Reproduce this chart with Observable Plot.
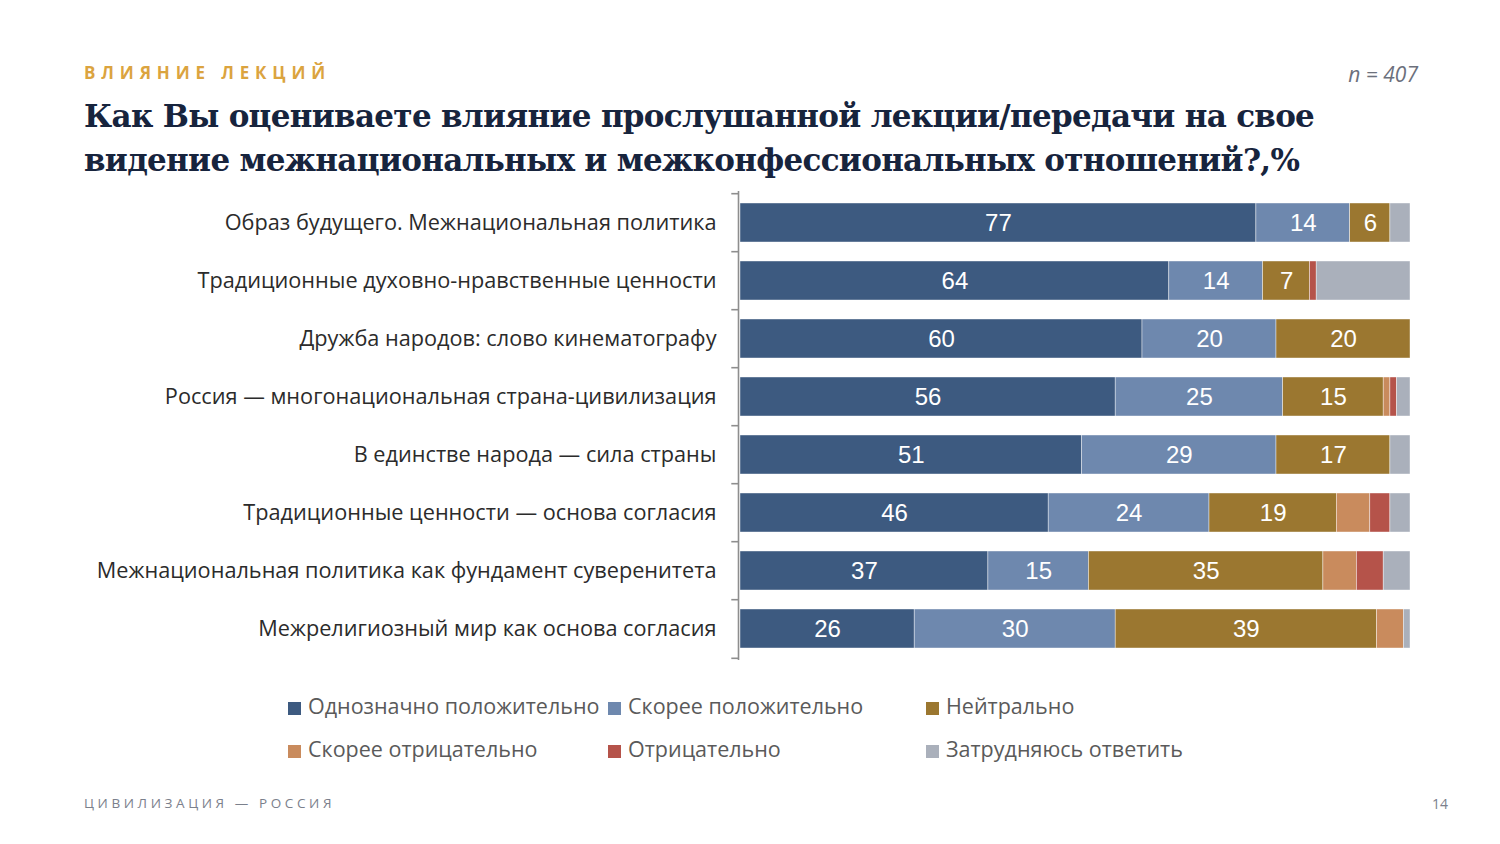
<!DOCTYPE html>
<html>
<head>
<meta charset="utf-8">
<script src="https://cdn.jsdelivr.net/npm/d3@7"></script>
<script src="https://cdn.jsdelivr.net/npm/@observablehq/plot@0.6"></script>
<style>
  html, body { margin: 0; padding: 0; background: #fff; }
  body { width: 1500px; height: 844px; position: relative; overflow: hidden; font-family: "Open Sans", sans-serif; }
  .kicker { position: absolute; left: 84px; top: 61px; font-family: "Open Sans", sans-serif; font-weight: 700; font-size: 17px; letter-spacing: 5.85px; color: #dba43f; }
  .n { position: absolute; right: 82px; top: 60px; font-family: "Open Sans", sans-serif; font-style: italic; font-size: 21px; color: #6c707c; }
  h1 { position: absolute; left: 84px; top: 94px; margin: 0; font-family: "DejaVu Serif", serif; font-weight: 700; font-size: 31px; line-height: 44px; color: #17243d; letter-spacing: -0.7px; }
  #chart { position: absolute; left: 0; top: 181px; }
  .legend { position: absolute; font-family: "Open Sans", sans-serif; font-size: 21.5px; color: #5a5a5a; white-space: nowrap; }
  .legend .sw { display: inline-block; width: 13px; height: 13px; margin-right: 7px; vertical-align: -1px; }
  .footer { position: absolute; left: 84px; top: 794px; font-size: 13.5px; letter-spacing: 3.6px; color: #7b808c; }
  .page { position: absolute; right: 52px; top: 794px; font-size: 14px; color: #7b808c; }
</style>
</head>
<body>
<div class="kicker">ВЛИЯНИЕ ЛЕКЦИЙ</div>
<div class="n">n = 407</div>
<h1>Как Вы оцениваете влияние прослушанной лекции/передачи на свое<br>видение межнациональных и межконфессиональных отношений?,%</h1>
<div id="chart"></div>
<div id="legend"></div>
<div class="footer">ЦИВИЛИЗАЦИЯ — РОССИЯ</div>
<div class="page">14</div>
<script>
const categories = [
  "Образ будущего. Межнациональная политика",
  "Традиционные духовно-нравственные ценности",
  "Дружба народов: слово кинематографу",
  "Россия — многонациональная страна-цивилизация",
  "В единстве народа — сила страны",
  "Традиционные ценности — основа согласия",
  "Межнациональная политика как фундамент суверенитета",
  "Межрелигиозный мир как основа согласия"
];
const responses = [
  "Однозначно положительно",
  "Скорее положительно",
  "Нейтрально",
  "Скорее отрицательно",
  "Отрицательно",
  "Затрудняюсь ответить"
];
const colors = ["#3d5a80", "#6e88ae", "#9b7730", "#c98b5d", "#b5534a", "#aab0bb"];

const definitelyPositive = [77, 64, 60, 56, 51, 46, 37, 26];
const ratherPositive     = [14, 14, 20, 25, 29, 24, 15, 30];
const neutral            = [ 6,  7, 20, 15, 17, 19, 35, 39];
const ratherNegative     = [ 0,  0,  0,  1,  0,  5,  5,  4];
const negative           = [ 0,  1,  0,  1,  0,  3,  4,  0];
const hardToSay          = [ 3, 14,  0,  2,  3,  3,  4,  1];

const series = [definitelyPositive, ratherPositive, neutral, ratherNegative, negative, hardToSay];
const labeled = new Set(responses.slice(0, 3));

const data = [];
categories.forEach((c, i) => {
  responses.forEach((r, j) => {
    data.push({cat: c, resp: r, value: series[j][i]});
  });
});

const width = 1500, height = 489, mt = 10, mb = 10;
const step = (height - mt - mb) / categories.length;

const chart = Plot.plot({
  width, height,
  marginLeft: 740, marginRight: 90, marginTop: mt, marginBottom: mb,
  style: {fontFamily: "Open Sans, sans-serif", color: "#2b2b2b", background: "transparent"},
  x: {domain: [0, 100], axis: null},
  y: {domain: categories, paddingInner: 0.32, paddingOuter: 0.16, label: null},
  color: {domain: responses, range: colors},
  marks: [
    Plot.barX(data, Plot.stackX({x: "value", y: "cat", fill: "resp", stroke: "#ffffff", strokeWidth: 0.6, strokeOpacity: 0.7})),
    Plot.text(data, Plot.stackX({
      x: "value", y: "cat",
      text: d => labeled.has(d.resp) && d.value > 0 ? String(d.value) : "",
      fill: "white", fontSize: 24, fontFamily: "Liberation Sans, Arial, sans-serif"
    })),
    Plot.ruleX([0], {stroke: "#8e8e8e", strokeWidth: 1.6, dx: -2}),
    Plot.ruleY(categories, {y: d => d, x1: -1, x2: 0, dx: -2, dy: -step / 2, stroke: "#8e8e8e", strokeWidth: 1.6}),
    Plot.ruleY(categories.slice(-1), {y: d => d, x1: -1, x2: 0, dx: -2, dy: step / 2, stroke: "#8e8e8e", strokeWidth: 1.6}),
    Plot.axisY({tickSize: 0, tickPadding: 24, fontSize: 21.7, label: null})
  ]
});
document.getElementById("chart").appendChild(chart);

// Legend
const legendPos = [
  [288, 691], [608, 691], [926, 691],
  [288, 734], [608, 734], [926, 734]
];
const legend = document.getElementById("legend");
responses.forEach((r, i) => {
  const el = document.createElement("div");
  el.className = "legend";
  el.style.left = legendPos[i][0] + "px";
  el.style.top = legendPos[i][1] + "px";
  el.innerHTML = `<span class="sw" style="background:${colors[i]}"></span>${r}`;
  legend.appendChild(el);
});
</script>
</body>
</html>
